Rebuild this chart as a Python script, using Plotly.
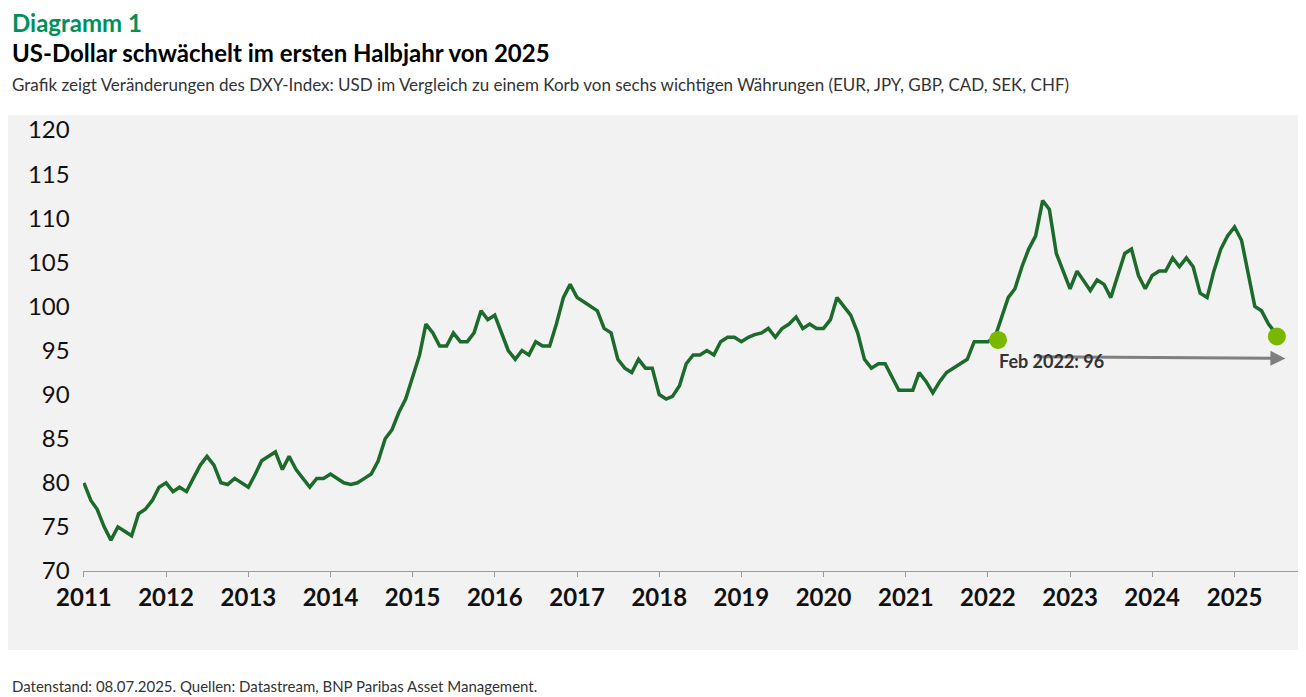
import plotly.graph_objects as go
import pandas as pd

years = list(range(2011, 2026))
v2011 = [80, 78, 77, 75, 73.5, 75, 74.5, 74, 76.5, 77, 78, 79.5]
v2012 = [80, 79, 79.5, 79, 80.5, 82, 83, 82, 80, 79.8, 80.5, 80]
v2013 = [79.5, 81, 82.5, 83, 83.5, 81.5, 83, 81.5, 80.5, 79.5, 80.5, 80.5]
v2014 = [81, 80.5, 80, 79.8, 80, 80.5, 81, 82.5, 85, 86, 88, 89.5]
v2015 = [92, 94.5, 98, 97, 95.5, 95.5, 97, 96, 96, 97, 99.5, 98.5]
v2016 = [99, 97, 95, 94, 95, 94.5, 96, 95.5, 95.5, 98, 101, 102.5]
v2017 = [101, 100.5, 100, 99.5, 97.5, 97, 94, 93, 92.5, 94, 93, 93]
v2018 = [90, 89.5, 89.8, 91, 93.5, 94.5, 94.5, 95, 94.5, 96, 96.5, 96.5]
v2019 = [96, 96.5, 96.8, 97, 97.5, 96.5, 97.5, 98, 98.8, 97.5, 98, 97.5]
v2020 = [97.5, 98.5, 101, 100, 99, 97, 94, 93, 93.5, 93.5, 92, 90.5]
v2021 = [90.5, 90.5, 92.5, 91.5, 90.2, 91.5, 92.5, 93, 93.5, 94, 96, 96]
v2022 = [96, 96.5, 98.5, 101, 102, 104.5, 106.5, 108, 112, 111, 106, 104]
v2023 = [102, 104, 103, 101.8, 103, 102.5, 101, 103.5, 106, 106.5, 103.5, 102]
v2024 = [103.5, 104, 104, 105.5, 104.5, 105.5, 104.5, 101.5, 101, 104, 106.5, 108]
v2025 = [109, 107.5, 104, 100, 99.5, 98, 97]

values = v2011+v2012+v2013+v2014+v2015+v2016+v2017+v2018+v2019+v2020+v2021+v2022+v2023+v2024+v2025
dates = pd.date_range("2011-01-01", periods=len(values), freq="MS")

dot_dates = ["2022-02-15", "2025-07-08"]
dot_vals = [96.2, 96.6]
tick_years = [str(y) for y in years]

fig = go.Figure()
fig.add_shape(type="rect", xref="paper", yref="paper", x0=-0.068, x1=1.0066, y0=-0.179, y1=1.034,
              fillcolor="#f2f2f2", line_width=0, layer="below")
fig.add_trace(go.Scatter(x=dates, y=values, mode="lines", line=dict(color="#1d6b2b", width=3.5)))
fig.add_trace(go.Scatter(x=dot_dates, y=dot_vals, mode="markers",
                         marker=dict(color="#7ab800", size=18)))
fig.add_annotation(x="2025-08-15", y=94.1, ax="2022-08-01", ay=94.3, xref="x", yref="y",
                   axref="x", ayref="y", showarrow=True, arrowhead=2, arrowsize=1,
                   arrowwidth=3, arrowcolor="#7f7f7f", text="")
fig.add_annotation(x="2022-02-10", y=93.8, xref="x", yref="y", text="<b>Feb 2022: 96</b>",
                   showarrow=False, xanchor="left", font=dict(size=18, color="#333333"))
fig.add_annotation(xref="paper", yref="paper", x=-0.06, y=1.282, xanchor="left", yanchor="top",
                   text="<b>Diagramm 1</b>", showarrow=False, font=dict(size=24, color="#00915a"))
fig.add_annotation(xref="paper", yref="paper", x=-0.06, y=1.213, xanchor="left", yanchor="top",
                   text="<b>US-Dollar schwächelt im ersten Halbjahr von 2025</b>", showarrow=False,
                   font=dict(size=24, color="#000000"))
fig.add_annotation(xref="paper", yref="paper", x=-0.06, y=1.131, xanchor="left", yanchor="top",
                   text="Grafik zeigt Veränderungen des DXY-Index: USD im Vergleich zu einem Korb von sechs wichtigen Währungen (EUR, JPY, GBP, CAD, SEK, CHF)",
                   showarrow=False, font=dict(size=17, color="#333333"))
fig.add_annotation(xref="paper", yref="paper", x=-0.06, y=-0.261, xanchor="left", yanchor="middle",
                   text="Datenstand: 08.07.2025. Quellen: Datastream, BNP Paribas Asset Management.",
                   showarrow=False, font=dict(size=15, color="#333333"))
fig.update_layout(
    width=1298, height=689, paper_bgcolor="white", plot_bgcolor="#f2f2f2",
    margin=dict(l=75, r=8, t=122, b=126), showlegend=False,
    font=dict(family="Lato, Open Sans, sans-serif"),
    xaxis=dict(range=["2010-12-28", "2025-10-10"], tickvals=[f"{y}-01-01" for y in years],
               ticktext=[f"<b>{t}</b>" for t in tick_years], showgrid=False, showline=True,
               linecolor="#999999", ticks="outside", ticklen=5, tickcolor="#999999",
               tickfont=dict(size=24, color="#111111"), zeroline=False),
    yaxis=dict(range=[70, 120], dtick=5, showgrid=False, showline=False, zeroline=False,
               tickfont=dict(size=24, color="#111111"), ticksuffix="  "),
)
fig.write_html("out.html")
